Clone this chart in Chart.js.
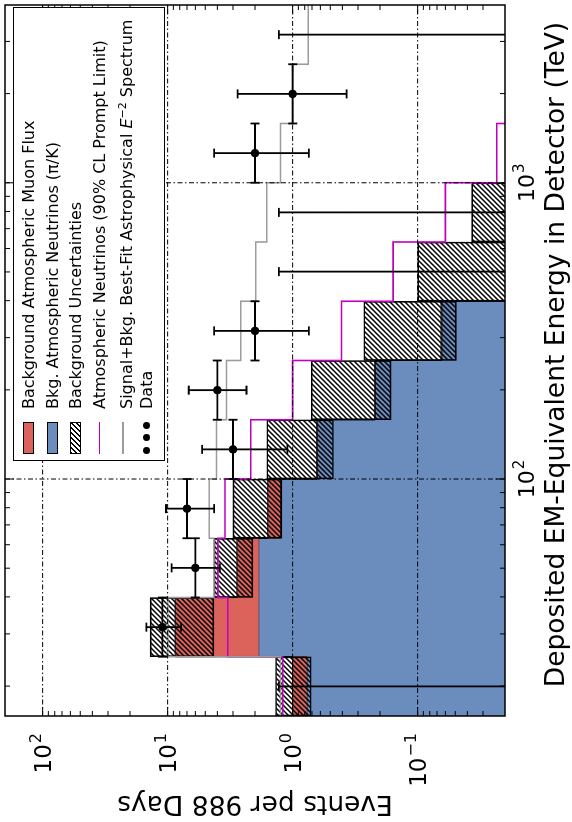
<!DOCTYPE html>
<html>
<head>
<meta charset="utf-8">
<script src="https://cdn.jsdelivr.net/npm/chart.js@4.4.1/dist/chart.umd.min.js"></script>
<style>
  html, body { margin: 0; padding: 0; background: #fff; overflow: hidden; }
  body { width: 572px; height: 822px; position: relative; }
  /* the figure is laid out landscape and turned a quarter turn */
  #stage { position: absolute; left: 0; top: 0; width: 822px; height: 572px;
           transform-origin: 0 0; transform: translateY(822px) rotate(-90deg); }
  #c { position: absolute; left: 0; top: 0; }
  #legend { position: absolute; left: 361px; top: 13px; width: 454px; height: 152px;
            box-sizing: border-box; border: 1.5px solid #000; background: #fff;
            font-family: "DejaVu Sans", sans-serif; font-size: 16px; color: #000; }
  #legend .row { position: absolute; left: 0; right: 0; height: 23.5px; }
  #legend .t { position: absolute; left: 51px; top: 0; line-height: 23.5px; white-space: nowrap; }
  #legend .patch { position: absolute; left: 6px; top: 6px; width: 32px; height: 11.2px;
                   box-sizing: border-box; border: 1px solid #000; }
  #legend .ln { position: absolute; left: 6px; top: 11px; width: 32px; height: 1.6px; }
  #legend .dot { position: absolute; top: 8.5px; width: 7px; height: 7px; border-radius: 50%; background: #000; }
</style>
</head>
<body>
<div id="stage">
  <canvas id="c" width="822" height="572"></canvas>
  <div id="legend">
    <div class="row" style="top:3px"><span class="patch" style="background:#dc625c"></span><span class="t">Background Atmospheric Muon Flux</span></div>
    <div class="row" style="top:26.5px"><span class="patch" style="background:#6a8dbd"></span><span class="t">Bkg. Atmospheric Neutrinos (π/K)</span></div>
    <div class="row" style="top:50px"><span class="patch" style="background:repeating-linear-gradient(135deg,#000 0 1.3px,#fff 1.3px 3.5px)"></span><span class="t">Background Uncertainties</span></div>
    <div class="row" style="top:73.5px"><span class="ln" style="background:#c000c0"></span><span class="t">Atmospheric Neutrinos (90% CL Prompt Limit)</span></div>
    <div class="row" style="top:97px"><span class="ln" style="background:#9c9c9c"></span><span class="t">Signal+Bkg. Best-Fit Astrophysical <i>E</i><sup style="font-size:11px">−2</sup> Spectrum</span></div>
    <div class="row" style="top:120.5px"><span class="dot" style="left:6px"></span><span class="dot" style="left:18.5px"></span><span class="dot" style="left:31px"></span><span class="t">Data</span></div>
  </div>
</div>
<script>
// Energy bins (deposited EM-equivalent energy, TeV): edges and centres
const binEdgesTeV   = [15.85, 25.12, 39.81, 63.10, 100.0, 158.5, 251.2, 398.1, 631.0, 1000, 1585, 2512, 3981];
const binCentersTeV = [19.95, 31.62, 50.12, 79.43, 125.9, 199.5, 316.2, 501.2, 794.3, 1259, 1995, 3162];

// Expected events per bin (988 days)
const atmNeutrinos = [0.77, 1.87, 1.87, 1.25, 0.636, 0.218, 0.064, 0.016, 0.006, 0.0025, 0.001, 0.0004];
const bkgTotal     = [1.00, 8.71, 2.79, 1.58, 0.640, 0.220, 0.065, 0.016, 0.006, 0.0025, 0.001, 0.0004];
const bkgBandLow   = [0.71, 4.26, 2.08, 1.22, 0.471, 0.163, 0.049, 0.011, 0.004, 0.0015, 0.0006, 0.0002];
const bkgBandHigh  = [1.37, 13.8, 4.26, 3.01, 1.61, 0.71, 0.27, 0.100, 0.037, 0.013, 0.005, 0.002];
const promptLimit  = [1.20, 3.30, 3.96, 3.48, 2.16, 1.00, 0.407, 0.157, 0.060, 0.0233, 0.009, 0.0035];
const bestFit      = [1.25, 10.0, 4.26, 4.64, 4.06, 3.38, 2.60, 1.97, 1.61, 1.25, 1.00, 0.75];

// Observed events with their 68% intervals
const dataCounts  = [0, 11, 6, 7, 3, 4, 2, 0, 0, 2, 1, 0];
const dataErrLow  = [0, 7.8, 3.82, 4.25, 1.10, 2.34, 0.74, 0, 0, 0.74, 0.37, 0];
const dataErrHigh = [1.29, 14.8, 9.28, 10.3, 5.30, 6.78, 4.25, 1.29, 1.29, 4.25, 2.75, 1.29];

// Axis ranges and labelled decades
const energyRange = [15.85, 3981];
const eventsRange = [0.02, 200];
const energyTickValues = [100, 1000];
const energyTickExps   = ['2', '3'];
const eventTickValues  = [100, 10, 1, 0.1];
const eventTickExps    = ['2', '1', '0', '\u22121'];

const RED = '#dc625c', BLUE = '#6a8dbd', MAGENTA = '#c000c0', GREY = '#9c9c9c';
const FONT = '"DejaVu Sans", sans-serif';

function makeHatch() {
  const s = 5, tile = document.createElement('canvas');
  tile.width = s; tile.height = s;
  const g = tile.getContext('2d');
  g.strokeStyle = '#000'; g.lineWidth = 1.5; g.lineCap = 'square';
  g.beginPath();
  g.moveTo(0, s); g.lineTo(s, 0);
  g.moveTo(-1, 1); g.lineTo(1, -1);
  g.moveTo(s - 1, s + 1); g.lineTo(s + 1, s - 1);
  g.stroke();
  return g.createPattern(tile, 'repeat');
}

// histogram outline: one point per bin edge (left edge carries the bin value), last bin repeated to close it
function steps(values) {
  return binEdgesTeV.map((e, i) => ({ x: e, y: values[Math.min(i, values.length - 1)] }));
}

function decadeMinors(lo, hi) {
  const out = [];
  for (let p = Math.floor(Math.log10(lo)); p <= Math.ceil(Math.log10(hi)); p++) {
    for (let k = 2; k <= 9; k++) {
      const v = k * Math.pow(10, p);
      if (v > lo && v < hi) out.push(v);
    }
  }
  return out;
}

function drawPower(ctx, exp, x, baseline, align, big, small, raise) {
  ctx.font = big + 'px ' + FONT;
  const wb = ctx.measureText('10').width;
  ctx.font = small + 'px ' + FONT;
  const we = ctx.measureText(exp).width;
  const total = wb + 1 + we;
  const left = align === 'right' ? x - total : x - total / 2;
  ctx.textAlign = 'left'; ctx.textBaseline = 'alphabetic';
  ctx.font = big + 'px ' + FONT;
  ctx.fillText('10', left, baseline);
  ctx.font = small + 'px ' + FONT;
  ctx.fillText(exp, left + wb + 1, baseline - raise);
}

const axesDecor = {
  id: 'axesDecor',
  afterDatasetsDraw(chart) {
    const { ctx, chartArea: a, scales: { x, y } } = chart;
    ctx.save();
    ctx.beginPath(); ctx.rect(a.left, a.top, a.right - a.left, a.bottom - a.top); ctx.clip();

    // decade grid, dash-dot
    ctx.strokeStyle = '#000'; ctx.lineWidth = 1;
    ctx.setLineDash([5, 2.5, 1.5, 2.5]);
    ctx.beginPath();
    energyTickValues.forEach(v => { const p = x.getPixelForValue(v); ctx.moveTo(p, a.top); ctx.lineTo(p, a.bottom); });
    eventTickValues.forEach(v => { const p = y.getPixelForValue(v); ctx.moveTo(a.left, p); ctx.lineTo(a.right, p); });
    ctx.stroke();
    ctx.setLineDash([]);

    // error bars of the observed events
    ctx.lineWidth = 1.8; ctx.strokeStyle = '#000';
    const cap = 4.5;
    ctx.beginPath();
    binCentersTeV.forEach((c, i) => {
      const px = x.getPixelForValue(c);
      const yHi = y.getPixelForValue(dataErrHigh[i]);
      const yLo = dataErrLow[i] > 0 ? y.getPixelForValue(dataErrLow[i]) : a.bottom + 10;
      ctx.moveTo(px, yHi); ctx.lineTo(px, yLo);
      ctx.moveTo(px - cap, yHi); ctx.lineTo(px + cap, yHi);
      if (dataErrLow[i] > 0) { ctx.moveTo(px - cap, yLo); ctx.lineTo(px + cap, yLo); }
      if (dataCounts[i] > 0) {
        const py = y.getPixelForValue(dataCounts[i]);
        const x0 = x.getPixelForValue(binEdgesTeV[i]), x1 = x.getPixelForValue(binEdgesTeV[i + 1]);
        ctx.moveTo(x0, py); ctx.lineTo(x1, py);
        ctx.moveTo(x0, py - cap); ctx.lineTo(x0, py + cap);
        ctx.moveTo(x1, py - cap); ctx.lineTo(x1, py + cap);
      }
    });
    ctx.stroke();
    ctx.restore();

    // inward ticks on all four sides
    ctx.save();
    ctx.strokeStyle = '#000'; ctx.lineWidth = 1;
    ctx.beginPath();
    const tickX = (v, len) => { const p = x.getPixelForValue(v);
      ctx.moveTo(p, a.bottom); ctx.lineTo(p, a.bottom - len); ctx.moveTo(p, a.top); ctx.lineTo(p, a.top + len); };
    const tickY = (v, len) => { const p = y.getPixelForValue(v);
      ctx.moveTo(a.left, p); ctx.lineTo(a.left + len, p); ctx.moveTo(a.right, p); ctx.lineTo(a.right - len, p); };
    energyTickValues.forEach(v => tickX(v, 9));
    decadeMinors(energyRange[0], energyRange[1]).forEach(v => tickX(v, 5));
    eventTickValues.forEach(v => tickY(v, 9));
    decadeMinors(eventsRange[0], eventsRange[1]).forEach(v => tickY(v, 5));
    ctx.stroke();
    ctx.lineWidth = 1.5;
    ctx.strokeRect(a.left, a.top, a.right - a.left, a.bottom - a.top);
    ctx.restore();
  },
  afterDraw(chart) {
    const { ctx, chartArea: a, scales: { x, y } } = chart;
    ctx.save();
    ctx.fillStyle = '#000';
    energyTickValues.forEach((v, i) => drawPower(ctx, energyTickExps[i], x.getPixelForValue(v), a.bottom + 29, 'center', 22, 15, 10));
    eventTickValues.forEach((v, i) => drawPower(ctx, eventTickExps[i], a.left - 17, y.getPixelForValue(v) + 8, 'right', 23, 16, 10));
    ctx.font = '26.5px ' + FONT;
    ctx.textAlign = 'center'; ctx.textBaseline = 'alphabetic';
    ctx.fillText('Deposited EM-Equivalent Energy in Detector (TeV)', (a.left + a.right) / 2 + 6, 564);
    ctx.translate(26, (a.top + a.bottom) / 2);
    ctx.rotate(-Math.PI / 2);
    ctx.fillText('Events per 988 Days', 0, 0);
    ctx.restore();
  }
};

const hatch = makeHatch();

new Chart(document.getElementById('c'), {
  type: 'line',
  data: {
    datasets: [
      { label: 'Data', data: binCentersTeV.map((c, i) => ({ x: c, y: dataCounts[i] > 0 ? dataCounts[i] : null })),
        showLine: false, pointRadius: 3.8, pointBackgroundColor: '#000', pointBorderColor: '#000', order: 0 },
      { label: 'Signal+Bkg. Best-Fit', data: steps(bestFit), stepped: 'before', borderColor: GREY, borderWidth: 1.6,
        pointRadius: 0, fill: false, order: 1 },
      { label: 'Prompt Limit', data: steps(promptLimit), stepped: 'before', borderColor: MAGENTA, borderWidth: 1.6,
        pointRadius: 0, fill: false, order: 2 },
      { label: 'Background Uncertainties', type: 'bar',
        data: binCentersTeV.map((c, i) => ({ x: c, y: [bkgBandLow[i], bkgBandHigh[i]] })),
        backgroundColor: hatch, borderColor: '#000', borderWidth: 1, borderSkipped: false,
        barPercentage: 1, categoryPercentage: 1, order: 3 },
      { label: 'Atmospheric Muon Flux', data: steps(bkgTotal), stepped: 'before', borderColor: '#000', borderWidth: 1,
        backgroundColor: RED, fill: 5, pointRadius: 0, order: 4 },
      { label: 'Atmospheric Neutrinos', data: steps(atmNeutrinos), stepped: 'before', borderColor: '#000', borderWidth: 1,
        backgroundColor: BLUE, fill: 'start', pointRadius: 0, order: 5 }
    ]
  },
  options: {
    responsive: false, animation: false, devicePixelRatio: 1,
    layout: { padding: { top: 5, right: 3, left: 0, bottom: 0 } },
    plugins: { legend: { display: false }, tooltip: { enabled: false } },
    scales: {
      x: { type: 'logarithmic', min: energyRange[0], max: energyRange[1], offset: false,
           afterBuildTicks(s) { s.ticks = binEdgesTeV.map(v => ({ value: v })); },
           ticks: { display: false }, grid: { display: false, drawTicks: false }, border: { display: false },
           afterFit(s) { s.height = 67; } },
      y: { type: 'logarithmic', min: eventsRange[0], max: eventsRange[1],
           ticks: { display: false }, grid: { display: false, drawTicks: false }, border: { display: false },
           afterFit(s) { s.width = 106; } }
    }
  },
  plugins: [axesDecor]
});
</script>
</body>
</html>
